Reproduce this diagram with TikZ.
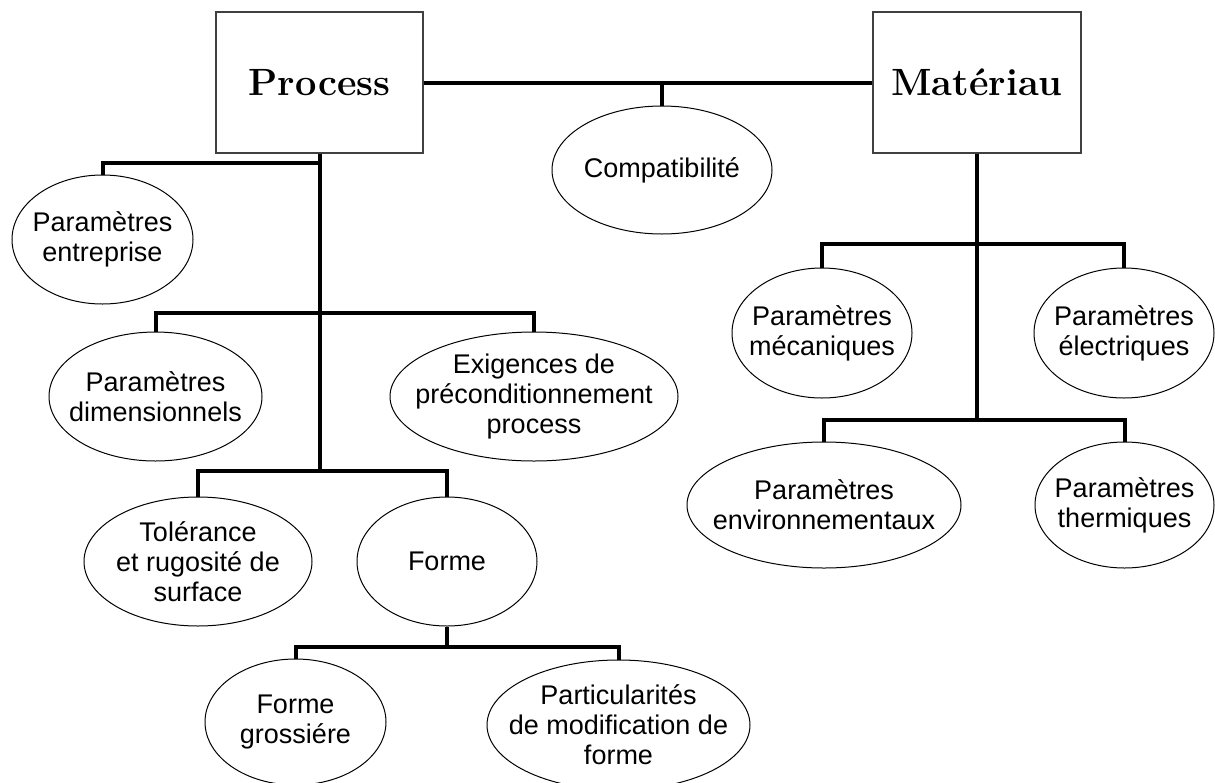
\documentclass[tikz,border=0pt]{standalone}
\usepackage{fontspec}
\newfontfamily\ellfont{Liberation Sans}
\usepackage{tikz}
\usetikzlibrary{shapes.geometric}

\begin{document}
\begin{tikzpicture}[x=0.5pt, y=-0.5pt,
    box/.style={draw=black!75, line width=0.6pt, rectangle, inner sep=0pt,
                font=\fontsize{19}{22}\selectfont\bfseries},
    oval/.style={draw, line width=0.5pt, ellipse, inner xsep=-25pt, inner ysep=-12pt, align=center,
                 font={\ellfont\fontsize{13.5}{15}\selectfont}},
    link/.style={line width=2pt}]
            \useasboundingbox (0,0) rectangle (1215,782);

            % top boxes
            \node[box, minimum width=103.5pt, minimum height=70.5pt] (proc) at (319.5,82.5) {Process};
            \node[box, minimum width=104pt, minimum height=70.5pt] (mat) at (977,82.5) {Matériau};
            \node[oval, minimum width=110pt, minimum height=64pt] (compat) at (662,170) {Compatibilité};

            % process side
            \node[oval, minimum width=90.5pt, minimum height=64.5pt] (entr) at (102.5,239.5) {Paramètres\\entreprise};
            \node[oval, minimum width=106.5pt, minimum height=64.5pt] (dim) at (155.5,396.5) {Paramètres\\dimensionnels};
            \node[oval, minimum width=144pt, minimum height=64.5pt] (exig) at (534,396.5) {Exigences de\\préconditionnement\\process};
            \node[oval, minimum width=114pt, minimum height=64.5pt] (tol) at (198,561.5) {Tolérance\\et rugosité de\\surface};
            \node[oval, minimum width=90pt, minimum height=64.5pt] (forme) at (447,561.5) {Forme};
            \node[oval, minimum width=90.5pt, minimum height=63pt] (fgros) at (295.5,722) {Forme\\grossiére};
            \node[oval, minimum width=131.5pt, minimum height=65pt] (part) at (618.5,725) {Particularités\\de modification de\\forme};

            % materiau side
            \node[oval, minimum width=90pt, minimum height=65pt] (meca) at (822,333) {Paramètres\\mécaniques};
            \node[oval, minimum width=90pt, minimum height=65pt] (elec) at (1124,333) {Paramètres\\électriques};
            \node[oval, minimum width=137pt, minimum height=63pt] (env) at (824,505) {Paramètres\\environnementaux};
            \node[oval, minimum width=89.5pt, minimum height=63pt] (therm) at (1124.5,505) {Paramètres\\thermiques};

            % junctions
            \coordinate (jA) at (319.5,163);
            \coordinate (jB) at (319.5,313);
            \coordinate (jC) at (319.5,471);
            \coordinate (jD) at (447,647);
            \coordinate (jE) at (977,244);
            \coordinate (jF) at (977,420);

            \draw[link] (proc.east) -- (mat.west);
            \draw[link] (compat.north) -- (compat.north |- proc.east);

            \draw[link] (proc.south) -- (jC);
            \draw[link] (entr.north) |- (jA);
            \draw[link] (dim.north) |- (jB) -| (exig.north);
            \draw[link] (tol.north) |- (jC) -| (forme.north);
            \draw[link] (forme.south) -- (jD);
            \draw[link] (fgros.north) |- (jD) -| (part.north);

            \draw[link] (mat.south) -- (jF);
            \draw[link] (meca.north) |- (jE) -| (elec.north);
            \draw[link] (env.north) |- (jF) -| (therm.north);

\end{tikzpicture}
\end{document}
